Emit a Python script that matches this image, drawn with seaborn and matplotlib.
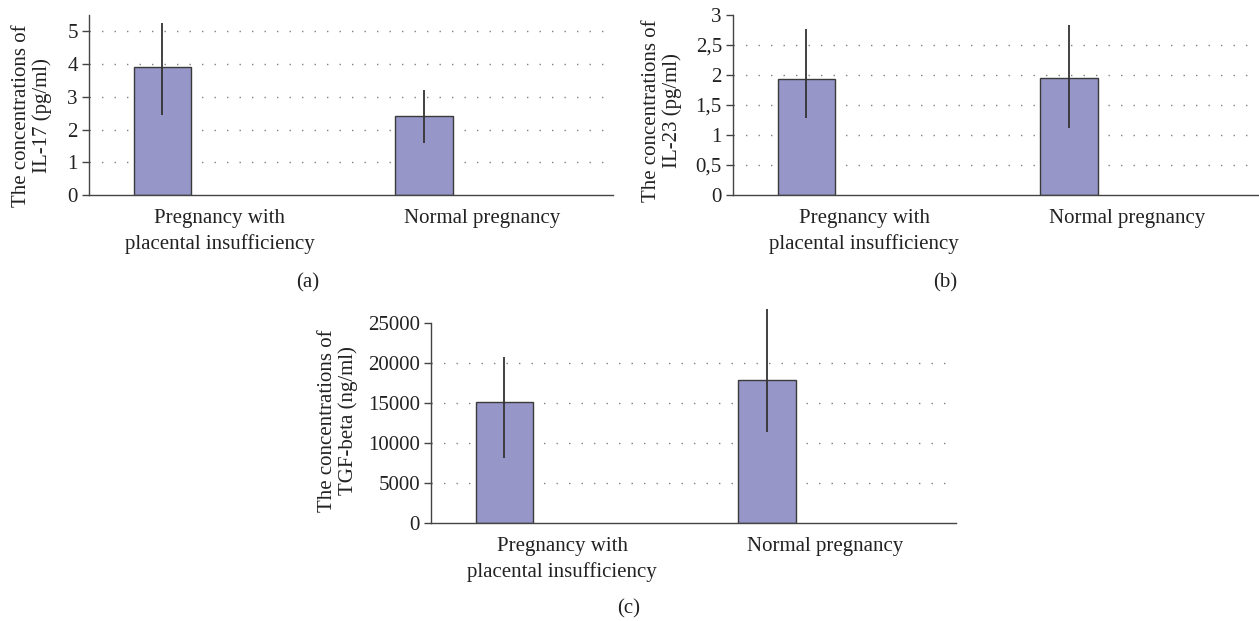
import numpy as np
import pandas as pd
import matplotlib
matplotlib.use("Agg")
import matplotlib.pyplot as plt
import seaborn as sns

# categories
groups = ["Pregnancy with\nplacental insufficiency", "Normal pregnancy"]

# IL-17 (pg/ml)
il17_mean = [3.9, 2.4]
il17_err_low = [1.47, 0.80]
il17_err_high = [1.35, 0.81]

# IL-23 (pg/ml)
il23_mean = [1.94, 1.955]
il23_err_low = [0.66, 0.84]
il23_err_high = [0.83, 0.88]

# TGF-beta (ng/ml)
tgf_mean = [15100, 17850]
tgf_err_low = [7030, 6470]
tgf_err_high = [5700, 8920]

# axis ticks / labels
il17_ticks = [0, 1, 2, 3, 4, 5]
il17_ticklabels = ["0", "1", "2", "3", "4", "5"]
il23_ticks = [0, 0.5, 1, 1.5, 2, 2.5, 3]
il23_ticklabels = ["0", "0,5", "1", "1,5", "2", "2,5", "3"]
tgf_ticks = [0, 5000, 10000, 15000, 20000, 25000]
tgf_ticklabels = ["0", "5000", "10000", "15000", "20000", "25000"]

sns.set_theme(style="white")
plt.rcParams["font.family"] = ["Liberation Serif", "DejaVu Serif"]

bar_color = "#9696C8"
edge_color = "#3a3a3a"
text_color = "#222222"
fs = 15

fig = plt.figure(figsize=(12.59, 6.21), dpi=100)


def draw_panel(rect, means, err_low, err_high, ticks, ticklabels, ytop, ylabel, label_xy):
    ax = fig.add_axes(rect)
    df = pd.DataFrame({"group": groups, "value": means, "series": "mean"})
    sns.barplot(data=df, x="group", y="value", hue="series",
                hue_order=["mean", "blank"], order=groups,
                palette={"mean": bar_color, "blank": bar_color}, saturation=1,
                width=0.88, gap=0.5, dodge=True, errorbar=None,
                edgecolor=edge_color, linewidth=1.0, legend=False, ax=ax)

    # error bars at the bar centres
    bars = [p for p in ax.patches if np.isfinite(p.get_height()) and p.get_height() > 0]
    bars = sorted(bars, key=lambda p: p.get_x())
    xs = [p.get_x() + p.get_width() / 2 for p in bars]
    eb = ax.errorbar(xs, means, yerr=[err_low, err_high], fmt="none",
                     ecolor="#333333", elinewidth=1.3, capsize=0, zorder=5)
    for coll in eb.lines[2]:
        coll.set_clip_on(False)

    ax.set_ylim(0, ytop)
    ax.set_xlim(-0.5, len(groups) - 0.5)

    # dotted gridlines below the top of the axis
    for t in ticks[1:]:
        if t < ytop:
            ax.axhline(t, color="#808080", lw=1.0, ls=(0, (1, 8)), zorder=0)

    ax.set_yticks(ticks, labels=ticklabels)
    ax.set_xticks(np.arange(len(groups) + 1) - 0.5, labels=[""] * (len(groups) + 1))
    ax.set_xticks(np.arange(len(groups)), labels=groups, minor=True,
                  linespacing=1.4, fontsize=fs, color=text_color)
    ax.tick_params(axis="x", which="major", length=5, width=1, color="#444444", direction="out")
    ax.tick_params(axis="x", which="minor", length=0, pad=10)
    ax.tick_params(axis="y", length=5, width=1, color="#444444", direction="out",
                   pad=3, labelsize=fs, labelcolor=text_color, left=True)

    sns.despine(ax=ax)
    for s in ["left", "bottom"]:
        ax.spines[s].set_color("#444444")
        ax.spines[s].set_linewidth(1.0)

    ax.set_xlabel("")
    ax.set_ylabel(ylabel, fontsize=fs, color=text_color, linespacing=1.1)
    ax.yaxis.set_label_coords(*label_xy)
    return ax


draw_panel([0.0707, 0.686, 0.416, 0.290], il17_mean, il17_err_low, il17_err_high,
           il17_ticks, il17_ticklabels, 5.5,
           "The concentrations of\nIL-17 (pg/ml)", (-0.071, 0.44))
draw_panel([0.5822, 0.686, 0.417, 0.290], il23_mean, il23_err_low, il23_err_high,
           il23_ticks, il23_ticklabels, 3,
           "The concentrations of\nIL-23 (pg/ml)", (-0.097, 0.47))
draw_panel([0.3423, 0.1578, 0.417, 0.322], tgf_mean, tgf_err_low, tgf_err_high,
           tgf_ticks, tgf_ticklabels, 25000,
           "The concentrations of\nTGF-beta (ng/ml)", (-0.139, 0.51))

fig.text(308 / 1259, 1 - 283 / 621, "(a)", ha="center", va="center", fontsize=fs, color=text_color)
fig.text(945 / 1259, 1 - 283 / 621, "(b)", ha="center", va="center", fontsize=fs, color=text_color)
fig.text(629 / 1259, 1 - 609 / 621, "(c)", ha="center", va="center", fontsize=fs, color=text_color)

fig.savefig("out.png", dpi=100)
